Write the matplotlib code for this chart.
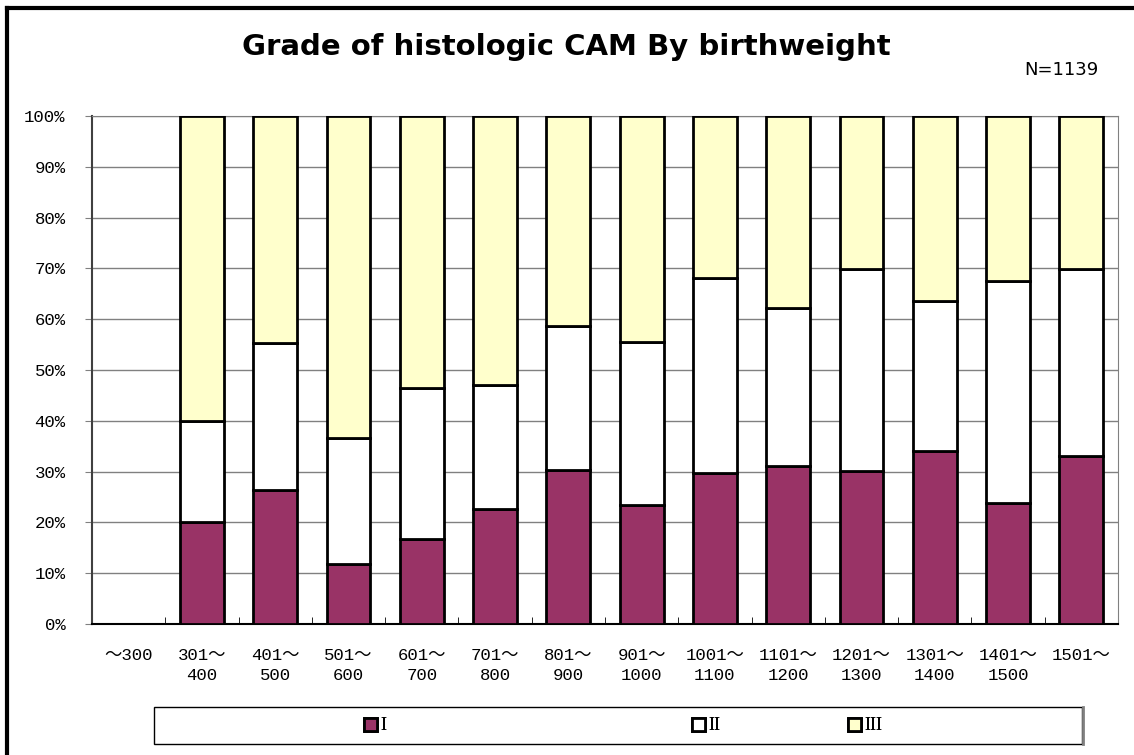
import numpy as np
import matplotlib
matplotlib.use("Agg")
import matplotlib.pyplot as plt
from matplotlib.patches import Rectangle
from matplotlib.lines import Line2D

# --- data (percent) ---
categories = ["～300", "301～\n400", "401～\n500", "501～\n600", "601～\n700", "701～\n800",
              "801～\n900", "901～\n1000", "1001～\n1100", "1101～\n1200", "1201～\n1300",
              "1301～\n1400", "1401～\n1500", "1501～"]
# first class (~300) has no cases
grade_1 = [np.nan, 20.0, 26.3, 11.8, 16.8, 22.6, 30.3, 23.4, 29.8, 31.2, 30.2, 34.1, 23.8, 33.0]
grade_1_2 = [np.nan, 40.0, 55.3, 36.7, 46.4, 47.1, 58.6, 55.6, 68.1, 62.3, 69.9, 63.6, 67.6, 69.8]
grade_2 = [b - a for a, b in zip(grade_1, grade_1_2)]
grade_3 = [100.0 - b for b in grade_1_2]
series_names = ["I", "II", "III"]
colors = ["#993366", "#FFFFFF", "#FFFFCC"]

mono = ["Liberation Mono", "Noto Sans CJK JP"]

W, H = 1134, 755
fig = plt.figure(figsize=(W / 100, H / 100), dpi=100)
ax = fig.add_axes([92 / W, 1 - 624 / H, (1118 - 92) / W, (624 - 116) / H])

x = np.arange(len(categories))
mask = ~np.isnan(grade_1)
bottom = np.zeros(len(categories))
for vals, col, name in zip([grade_1, grade_2, grade_3], colors, series_names):
    v = np.array(vals)
    ax.bar(x[mask], v[mask], bottom=bottom[mask], width=0.6, color=col,
           edgecolor="black", linewidth=2, label=name, zorder=3)
    bottom = bottom + np.nan_to_num(v)

ax.set_xlim(-0.5, len(categories) - 0.5)
ax.set_ylim(0, 100)
ax.set_yticks(np.arange(0, 101, 10))
ax.set_yticklabels([f"{v}%" for v in range(0, 101, 10)], family=mono, fontsize=12.5)
ax.yaxis.grid(True, color="#808080", linewidth=1, zorder=0)
ax.tick_params(axis="y", direction="out", length=5, color="#808080", pad=14)

ax.set_xticks(x)
ax.set_xticklabels(categories, family=mono, fontsize=12.5, linespacing=1.45)
ax.set_xticks(np.arange(0.5, len(categories) - 1, 1), minor=True)
ax.tick_params(axis="x", which="major", length=0, pad=17)
ax.tick_params(axis="x", which="minor", direction="in", length=5, color="black")

for side in ["top", "right"]:
    ax.spines[side].set_color("#808080")
ax.spines["left"].set_color("#404040")
ax.spines["bottom"].set_color("black")
ax.spines["left"].set_linewidth(1.5)
ax.spines["bottom"].set_linewidth(1.5)

fig.text(566 / W, 1 - 47 / H, "Grade of histologic CAM By birthweight",
         ha="center", va="center", fontsize=21, fontweight="bold", family="DejaVu Sans")
fig.text(1061 / W, 1 - 70 / H, "N=1139", ha="center", va="center", fontsize=13,
         family="DejaVu Sans")

# outer chart border (only left and top are inside the picture)
fig.add_artist(Line2D([7 / W, 7 / W], [0, 1 - 8 / H], color="black", linewidth=3))
fig.add_artist(Line2D([7 / W, 1], [1 - 8 / H, 1 - 8 / H], color="black", linewidth=3))

# legend frame and entries
fig.add_artist(Rectangle((154 / W, 1 - 744 / H), (1082 - 154) / W, (744 - 707) / H,
                         transform=fig.transFigure, facecolor="white", edgecolor="black",
                         linewidth=1))
fig.add_artist(Line2D([1083 / W, 1083 / W], [1 - 744 / H, 1 - 707 / H], color="#808080",
                      linewidth=2))
handles, labels = ax.get_legend_handles_labels()
for h, lab, xpos in zip(handles, labels, [364, 692, 848]):
    leg = fig.legend([h], [lab], loc="center left", bbox_to_anchor=(xpos / W, 1 - 726 / H),
                     frameon=False, handlelength=0.7, handleheight=0.7, handletextpad=0.2,
                     borderpad=0, borderaxespad=0,
                     prop={"family": "Liberation Serif", "size": 13})
    fig.add_artist(leg)

fig.savefig("out.png", dpi=100)
